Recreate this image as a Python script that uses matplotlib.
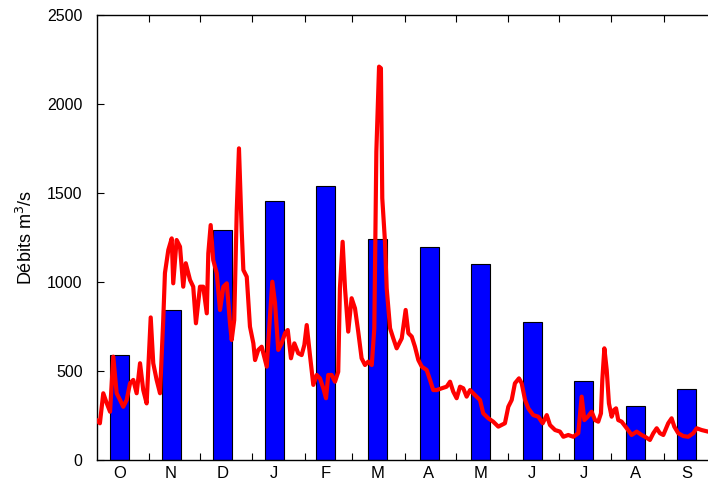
"""
Débits mensuels (barres) et journaliers (courbe) sur l'année hydrologique Oct-Sep
"""

import matplotlib
matplotlib.use("Agg")
import matplotlib.pyplot as plt
import numpy as np

plt.rcParams.update({
    "font.family": ["Liberation Sans", "DejaVu Sans"],
    "font.size": 10,
})

# Monthly mean discharge (m3/s)
months = ["O", "N", "D", "J", "F", "M", "A", "M", "J", "J", "A", "S"]
days_in_month = [31, 30, 31, 31, 28, 31, 30, 31, 30, 31, 31, 30]
monthly_q = [590, 839, 1292, 1457, 1539, 1240, 1199, 1103, 774, 444, 300, 395]

# Daily discharge (day of hydrological year, m3/s)
daily_day = [
    0, 2, 4, 6, 8, 9.9, 11.9, 13.9, 15.8, 17.8, 19.8, 21.7, 23.7, 25.7, 27.6,
    29.6, 32, 33.5, 35.5, 37.5, 39.4, 40.4, 42.4, 44.4, 45.3, 47.3, 49.3, 51.2,
    52.7, 55.2, 57.1, 58.7, 61.1, 63.0, 65.1, 66.0, 67.4, 68.9, 71.0, 72.9,
    74.9, 76.9, 78.8, 79.8, 81.3, 82.8, 84.1, 85.7, 86.7, 88.7, 90.6, 92.6,
    93.6, 95.5, 97.5, 99.5, 100.5, 102.4, 103.8, 105.4, 107.3, 109.3, 111.3,
    112.9, 114.8, 116.8, 119.1, 121.1, 122.7, 124.1, 126.0, 128.0, 130.0,
    131.9, 133.9, 135.5, 136.8, 138.8, 140.8, 142.7, 143.7, 145.3, 146.7,
    148.6, 150.6, 152.6, 154.5, 156.5, 158.5, 160.4, 162.5, 164.0, 165.2,
    166.8, 167.9, 168.7, 170.3, 171.3, 173.3, 175.2, 177.2, 179.2, 180.2,
    182.5, 184.1, 186.1, 188.0, 190.0, 192.0, 194.9, 196.9, 198.8, 200.8,
    203.8, 206.7, 208.7, 210.6, 212.6, 214.6, 216.5, 218.5, 220.5, 223.4,
    226.4, 228.3, 231.3, 234.2, 237.2, 241.1, 243.1, 245.1, 247.0, 249.4,
    251.0, 253.0, 254.9, 257.8, 260.8, 263.4, 265.8, 267.7, 270.7, 273.6,
    275.6, 278.5, 281.5, 284.4, 286.4, 288.0, 290.0, 292.3, 294.3, 296.2,
    297.8, 298.6, 299.8, 301.2, 302.5, 304.1, 305.5, 306.7, 308.0, 310.0,
    313.0, 315.9, 318.9, 321.8, 323.8, 326.7, 328.7, 330.7, 332.6, 334.6,
    337.5, 339.5, 341.1, 343.4, 346.4, 349.3, 352.3, 354.3, 357.2, 360.8, 365,
]
daily_q = [
    222, 204, 373, 318, 269, 579, 373, 335, 297, 335, 429, 448, 373, 542, 391,
    316, 800, 542, 448, 373, 785, 1050, 1180, 1245, 992, 1236, 1198, 973,
    1105, 1011, 973, 767, 973, 973, 823, 1161, 1320, 1123, 1048, 842,
    973, 992, 767, 673, 785, 1405, 1752, 1292, 1067, 1029, 748, 654,
    560, 617, 635, 560, 523, 804, 1001, 880, 617, 654, 711,
    729, 570, 654, 598, 588, 645, 757, 588, 420, 476,
    457, 401, 345, 476, 476, 438, 494, 964, 1226, 964,
    720, 908, 851, 720, 570, 532, 551, 532, 739, 1733,
    2212, 2203, 1471, 1226, 964, 739, 682, 626, 663, 682,
    842, 711, 692, 635, 560, 523, 504, 448, 391, 391,
    401, 410, 438, 382, 345, 410, 401, 354, 391, 363,
    335, 260, 232, 213, 185, 204, 297, 335, 429, 457,
    429, 335, 288, 250, 241, 204, 250, 194, 166, 157,
    128, 138, 128, 148, 354, 222, 241, 269, 222, 213,
    260, 448, 626, 504, 316, 241, 279, 288, 222, 213,
    176, 138, 157, 138, 128, 110, 148, 176, 148, 138,
    204, 232, 185, 148, 132, 128, 148, 176, 166, 157, 150,
]

fig = plt.figure(figsize=(7.08, 4.88), dpi=100)
# right spine sits just past the image edge, as in the original export
ax = fig.add_axes([96.5 / 708, 28.5 / 488, 618.3 / 708, 444 / 488])

bar_x = 13.6 + 30.45 * np.arange(len(monthly_q))
ax.bar(bar_x, monthly_q, width=11.2, color="#0000ff", edgecolor="black",
       linewidth=0.8, zorder=2)
ax.plot(daily_day, daily_q, color="#ff0000", linewidth=3.0, zorder=3)

ax.set_xlim(0, 365)
ax.set_ylim(0, 2500)
ax.set_yticks(np.arange(0, 2501, 500))

# month boundaries as tick marks, month letters centred on bars
bounds = np.cumsum(days_in_month)[:-1]
ax.set_xticks(bounds)
ax.set_xticklabels([])
ax.set_xticks(bar_x, minor=True)
ax.set_xticklabels(months, minor=True, fontsize=12)
ax.tick_params(axis="x", which="minor", length=0, pad=5)
ax.tick_params(axis="both", which="major", direction="in", length=5,
               top=True, right=True, labelsize=11.5, width=0.8)
ax.tick_params(axis="y", pad=10)

ax.set_ylabel("Débits m$^3$/s", fontsize=13, labelpad=8)
for s in ax.spines.values():
    s.set_linewidth(1.0)

fig.savefig("out.png", dpi=100)
